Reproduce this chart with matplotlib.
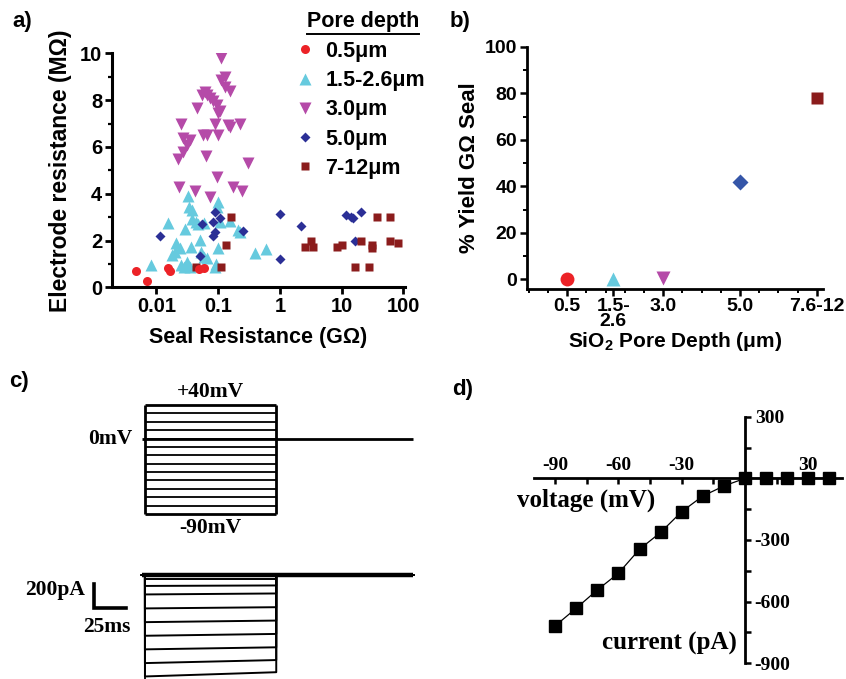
import numpy as np
import matplotlib.pyplot as plt
from matplotlib.lines import Line2D
from matplotlib.ticker import MultipleLocator, FixedLocator, LogLocator, NullFormatter

plt.rcParams['mathtext.fontset'] = 'custom'
plt.rcParams['mathtext.rm'] = 'Liberation Sans'
plt.rcParams['mathtext.bf'] = 'Liberation Sans:bold'
plt.rcParams['axes.unicode_minus'] = False

W, H = 846, 679
SANS = 'Liberation Sans'
SERIF = 'Liberation Serif'

# ---- panel a: seal vs electrode resistance ----
red_x = [0.0046, 0.0069, 0.0154, 0.0164, 0.049, 0.059]
red_y = [0.71, 0.27, 0.84, 0.71, 0.77, 0.84]

cyan_x = [0.0083, 0.0155, 0.018, 0.020, 0.021, 0.024, 0.025, 0.028, 0.029, 0.031,
          0.033, 0.034, 0.035, 0.036, 0.037, 0.038, 0.043, 0.048, 0.050, 0.052,
          0.059, 0.065, 0.060, 0.089, 0.092, 0.094, 0.10, 0.10, 0.106, 0.154,
          0.21, 0.224, 0.39, 0.59]
cyan_y = [0.95, 2.76, 1.38, 1.5, 1.88, 1.67, 0.95, 0.85, 2.5, 1.1,
          3.9, 3.45, 0.88, 1.74, 3.3, 2.9, 2.8, 2.7, 2.02, 1.52,
          1.31, 1.24, 2.75, 0.85, 1.0, 3.44, 3.66, 1.67, 2.8, 2.85,
          2.45, 2.38, 1.45, 1.62]

mag_x = [0.113, 0.128, 0.113, 0.128, 0.155, 0.061, 0.054, 0.065, 0.073, 0.083,
         0.094, 0.106, 0.045, 0.10, 0.025, 0.088, 0.144, 0.224, 0.155, 0.057,
         0.065, 0.10, 0.027, 0.035, 0.031, 0.027, 0.022, 0.063, 0.306, 0.094,
         0.023, 0.042, 0.073, 0.175, 0.24]
mag_y = [9.8, 9.0, 8.85, 8.55, 8.4, 8.35, 8.2, 8.2, 8.1, 7.95,
         7.8, 7.55, 7.65, 7.45, 7.0, 7.0, 6.95, 7.0, 6.85, 6.5,
         6.5, 6.5, 6.4, 6.3, 6.1, 5.8, 5.5, 5.6, 5.3, 4.7,
         4.3, 4.1, 3.85, 4.3, 4.1]

blue_x = [0.0113, 0.055, 0.083, 0.088, 0.106, 0.081, 0.088, 0.254, 0.05,
          1.0, 2.2, 1.0, 12, 14.5, 15.5, 20.4, 16.5]
blue_y = [2.2, 2.72, 2.8, 3.2, 2.95, 2.2, 2.35, 2.42, 1.35,
          3.12, 2.62, 1.2, 3.1, 3.0, 2.97, 3.2, 2.0]

dred_x = [0.044, 0.113, 0.133, 0.164, 3.16, 2.6, 3.5, 8.5, 10.2, 21,
          31, 31, 37, 62, 62, 83, 16.5, 27.5]
dred_y = [0.88, 0.88, 1.81, 3.02, 1.99, 1.71, 1.71, 1.71, 1.81, 1.99,
          1.81, 1.67, 3.02, 3.02, 1.99, 1.91, 0.88, 0.88]

depth_labels = ['0.5μm', '1.5-2.6μm', '3.0μm', '5.0μm', '7-12μm']

# ---- panel b: yield ----
b_pos = [0.5, 1.7, 3.0, 5.0, 7.0]
b_ticklabels = ['0.5', '1.5-\n2.6', '3.0', '5.0', '7.6-12']
b_yield = [0, 0, 0.8, 42, 78]

# ---- panel c: protocol and currents ----
step_mv = [40, 30, 20, 10, 0, -10, -20, -30, -40, -50, -60, -70, -80, -90]
t_on, t_off, t_end = 2.5, 104.0, 210.0
i_start = [0, 0, 0, 0, 0, -33, -90, -160, -275, -388, -500, -612, -725, -835]
i_end = [0, 0, 0, 0, 0, -33, -86, -152, -265, -375, -485, -595, -700, -800]

# ---- panel d: IV curve ----
iv_mv = [-90, -80, -70, -60, -50, -40, -30, -20, -10, 0, 10, 20, 30, 40]
iv_pa = [-718, -632, -543, -462, -345, -263, -162, -86, -37, 0, 0, 0, 0, 0]

c_red, c_cyan, c_mag = '#ec2227', '#66cade', '#b54aa8'
c_blue_a, c_blue_b, c_dred = '#2b2f96', '#3556a8', '#8b1c1c'


def px_axes(fig, left, top, right, bottom):
    return fig.add_axes([left / W, 1 - bottom / H, (right - left) / W, (bottom - top) / H])


fig = plt.figure(figsize=(W / 100, H / 100), dpi=100)

# ================= a =================
ax = px_axes(fig, 112, 53.3, 405, 287.3)
ax.set_xscale('log')
ms = dict(ls='none', mec='none')
ax.plot(mag_x, mag_y, marker='v', ms=8, color=c_mag, **ms)
ax.plot(cyan_x, cyan_y, marker='^', ms=8, color=c_cyan, **ms)
ax.plot(blue_x, blue_y, marker='D', ms=5.5, color=c_blue_a, **ms)
ax.plot(dred_x, dred_y, marker='s', ms=5.5, color=c_dred, **ms)
ax.plot(red_x, red_y, marker='o', ms=6.5, color=c_red, **ms)
ax.set_xlim(0.0019, 107)
ax.set_ylim(0, 10)
ax.set_yticks([0, 2, 4, 6, 8, 10])
ax.yaxis.set_minor_locator(MultipleLocator(1))
ax.set_xticks([0.01, 0.1, 1, 10, 100], ['0.01', '0.1', '1', '10', '100'])
ax.xaxis.set_minor_locator(LogLocator(base=10, subs=np.arange(2, 10)))
ax.xaxis.set_minor_formatter(NullFormatter())
for s in ['top', 'right']:
    ax.spines[s].set_visible(False)
for s in ['left', 'bottom']:
    ax.spines[s].set_linewidth(2.2)
ax.tick_params(which='major', length=5, width=2, labelsize=14.5, pad=2)
ax.tick_params(which='minor', length=3, width=1.6)
for lab in ax.get_xticklabels() + ax.get_yticklabels():
    lab.set_fontfamily(SANS)
    lab.set_fontweight('bold')
ax.set_xlabel('Seal Resistance (GΩ)', fontsize=15.5, fontweight='bold', family=SANS, labelpad=8)
ax.set_ylabel('Electrode resistance (MΩ)', fontsize=16.5, fontweight='bold', family=SANS, labelpad=6)

handles = [Line2D([], [], marker=m, color=c, ms=sz, ls='none', mec='none')
           for m, c, sz in [('o', c_red, 6.5), ('^', c_cyan, 8), ('v', c_mag, 8),
                            ('D', c_blue_a, 5.5), ('s', c_dred, 5.5)]]
leg = ax.legend(handles, depth_labels, loc='upper left', bbox_to_anchor=(294 / W, 1 - 41 / H),
                bbox_transform=fig.transFigure, frameon=False, handlelength=1.0,
                handletextpad=0.45, borderpad=0, borderaxespad=0, labelspacing=0.38,
                prop={'family': SANS, 'weight': 'bold', 'size': 15.5})
ttl = fig.text(363 / W, 1 - 21.7 / H, 'Pore depth', ha='center', va='center',
               fontsize=15.5, fontweight='bold', family=SANS)
fig.canvas.draw()
bb = ttl.get_window_extent().transformed(fig.transFigure.inverted())
fig.add_artist(Line2D([bb.x0, bb.x1], [bb.y0 - 0.002, bb.y0 - 0.002], color='black', lw=1.4,
                      transform=fig.transFigure))

# ================= b =================
bx = px_axes(fig, 526.7, 46.7, 823.3, 288.7)
bcols = [c_red, c_cyan, c_mag, c_blue_b, c_dred]
bmark = ['o', '^', 'v', 'D', 's']
bsize = [10, 10, 10, 8, 8.5]
for xp, yv, c, m, sz in zip(b_pos, b_yield, bcols, bmark, bsize):
    bx.plot(xp, yv, marker=m, color=c, ms=sz, mec='none', ls='none', clip_on=False)
bx.set_xlim(-0.557, 7.17)
bx.set_ylim(-4, 100)
bx.set_yticks([0, 20, 40, 60, 80, 100])
bx.yaxis.set_minor_locator(MultipleLocator(10))
bx.set_xticks(b_pos, b_ticklabels)
bx.xaxis.set_minor_locator(FixedLocator(np.arange(-0.5, 7.01, 0.5)))
for s in ['top', 'right']:
    bx.spines[s].set_visible(False)
for s in ['left', 'bottom']:
    bx.spines[s].set_linewidth(2.0)
bx.tick_params(which='major', length=5, width=1.8, labelsize=14, pad=2)
bx.tick_params(which='minor', length=3, width=1.4)
for lab in bx.get_xticklabels() + bx.get_yticklabels():
    lab.set_fontfamily(SANS)
    lab.set_fontweight('bold')
for lab in bx.get_xticklabels():
    lab.set_linespacing(0.85)
bx.set_xlabel(r'SiO$_\mathbf{2}$ Pore Depth (μm)', fontsize=15, fontweight='bold', family=SANS, labelpad=0)
bx.set_ylabel('% Yield GΩ Seal', fontsize=16, fontweight='bold', family=SANS, labelpad=3)

# ================= c =================
t_px = 1.2938
xl = ((30 - 141.7) / t_px, (430 - 141.7) / t_px)
cs = px_axes(fig, 30, 380, 430, 540)
cs.axis('off')
cs.set_xlim(*xl)
cs.set_ylim(40 - (540 - 405) / 0.8385, 40 + 25 / 0.8385)
inner = step_mv[1:-1]
cs.hlines(inner, t_on, t_off, color='black', lw=1.3)
cs.hlines([step_mv[0], step_mv[-1]], t_on, t_off, color='black', lw=2.0)
cs.vlines([t_on, t_off], step_mv[-1], step_mv[0], color='black', lw=2.0)
cs.hlines(0, 0, t_end, color='black', lw=2.0)
tf = dict(family=SERIF, fontweight='bold', fontsize=15.5)
cs.text((t_on + t_off) / 2, 56, '+40mV', ha='center', va='center', **tf)
cs.text((t_on + t_off) / 2, -107, '-90mV', ha='center', va='center', **tf)
cs.text(-7.5, 0, '0mV', ha='right', va='center', **tf)

ci = px_axes(fig, 30, 555, 430, 679)
ci.axis('off')
ci.set_xlim(*xl)
ci.set_ylim(-104 * 8.23, 20 * 8.23)
for a0, a1 in zip(i_start, i_end):
    ci.plot([0, t_on, t_on, t_off, t_off, t_end], [0, 0, a0, a1, 0, 0], color='black', lw=1.4)
ci.hlines(0, 0, t_end, color='black', lw=3.2)
ci.vlines(t_on, -856, 0, color='black', lw=1.3)
bar_pa, bar_ms = 200, 25
bar_t0, bar_i0 = -36.9, -274
ci.plot([bar_t0, bar_t0, bar_t0 + bar_ms], [bar_i0 + bar_pa, bar_i0, bar_i0],
        color='black', lw=2.6, solid_joinstyle='miter', clip_on=False)
ci.text(bar_t0 - 7, bar_i0 + bar_pa * 0.75, '200pA', ha='right', va='center', **tf)
ci.text(bar_t0 + 10, bar_i0 - 150, '25ms', ha='center', va='center', **tf)

# ================= d =================
dx = px_axes(fig, 534, 416.7, 842.1, 663.3)
dx.plot(iv_mv, iv_pa, color='black', lw=0.9, marker='s', ms=8, mec='black', clip_on=False, zorder=3)
dx.set_xlim(-100, 46)
dx.set_ylim(-900, 300)
dx.spines['left'].set_visible(False)
dx.spines['bottom'].set_visible(False)
dx.spines['right'].set_position(('data', 0))
dx.spines['top'].set_position(('data', 0))
dx.spines['right'].set_linewidth(2.0)
dx.spines['top'].set_linewidth(2.0)
dx.yaxis.set_ticks_position('right')
dx.xaxis.set_ticks_position('top')
dx.set_yticks([300, -300, -600, -900])
dx.yaxis.set_minor_locator(FixedLocator([150, 0, -150, -450, -750]))
dx.set_xticks([-90, -60, -30, 30])
dx.xaxis.set_minor_locator(FixedLocator([-75, -45, -15, 0, 15]))
dx.tick_params(axis='y', which='both', direction='out', length=4, width=1.8, labelsize=14, pad=3)
dx.tick_params(axis='x', which='both', direction='in', length=4, width=1.8, labelsize=14, pad=3)
for lab in dx.get_xticklabels() + dx.get_yticklabels():
    lab.set_fontfamily(SERIF)
    lab.set_fontweight('bold')
df = dict(family=SERIF, fontweight='bold', fontsize=18)
dx.text(-75.4, -105, 'voltage (mV)', ha='center', va='center', **df)
dx.text(-4, -803, 'current (pA)', ha='right', va='center', **df)

# panel letters
for lab, (px, py) in zip(['a)', 'b)', 'c)', 'd)'], [(22, 22), (460, 22), (19, 381), (463, 390)]):
    fig.text(px / W, 1 - py / H, lab, ha='center', va='center', fontsize=16,
             fontweight='bold', family=SANS)

fig.savefig('out.png', dpi=100)
